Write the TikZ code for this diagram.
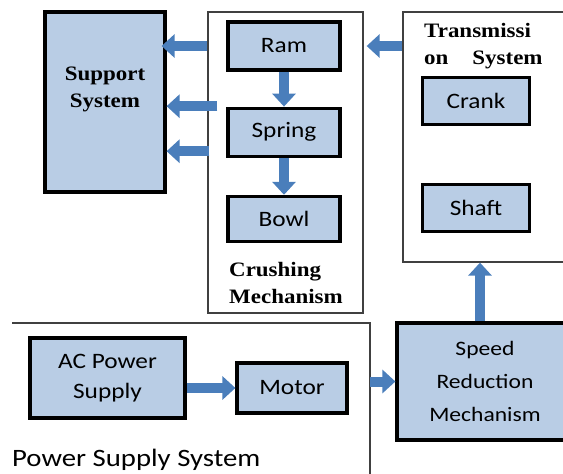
\documentclass[tikz,border=0pt]{standalone}
\usepackage{fontspec}
\setmainfont{Carlito}[FakeStretch=1.15]
\newfontfamily\headfont{Liberation Serif}[FakeStretch=1.12]
\usetikzlibrary{positioning, arrows.meta}
\definecolor{boxblue}{HTML}{B9CDE5}
\definecolor{arrowblue}{HTML}{4A7EBB}

\begin{document}
\begin{tikzpicture}[
  x=1pt, y=-1pt,
  font=\fontsize{22}{30}\selectfont,
  node distance=35pt,
  part/.style={draw=black, line width=3.2pt, fill=boxblue, align=center, inner sep=0pt},
  frame/.style={draw=black!75, line width=1.3pt, inner sep=0pt},
  head/.style={font=\fontsize{20.5}{27}\selectfont\headfont\bfseries, align=left, inner sep=0pt},
  flow/.style={-{Triangle[length=13pt, width=23pt]}, line width=10pt, arrowblue},
]
  \useasboundingbox (0,0) rectangle (563,474);
  \clip (0,0) rectangle (563,474);

  % --- support system ---
  \node[part, minimum width=120pt, minimum height=180pt] (support) at (105,102) {};
  \node[head, align=center, below=56pt of support.north] (supportlbl) {Support\\System};

  % --- crushing mechanism ---
  \node[frame, minimum width=155pt, minimum height=301pt] (crushing) at (285.5,162.5) {};
  \node[part, minimum width=112pt, minimum height=48pt] (ram) at (284,46) {Ram};
  \node[part, minimum width=112pt, minimum height=48pt, below=35pt of ram] (spring) {Spring};
  \node[part, minimum width=112pt, minimum height=45pt, below=37pt of spring] (bowl) {Bowl};
  \node[head, anchor=north west] (crushlbl) at (229,262) {Crushing\\Mechanism};
  \draw[flow] (ram) -- (spring);
  \draw[flow] (spring) -- (bowl);

  % --- transmission system ---
  \node[frame, minimum width=172pt, minimum height=250pt] (trans) at (489,137) {};
  \node[head, anchor=north west] (translbl) at (424,23) {Transmissi\\on\hspace{24pt}System};
  \node[part, minimum width=107pt, minimum height=47pt] (crank) at (476,101) {Crank};
  \node[part, minimum width=107pt, minimum height=47pt] (shaft) at (476,208) {Shaft};

  % --- speed reduction ---
  \node[part, minimum width=176pt, minimum height=117pt, font=\fontsize{20.5}{33}\selectfont]
    (speed) at (485,381.5) {Speed\\Reduction\\Mechanism};

  % --- power supply system ---
  \coordinate (pwrtl) at (12,323);
  \coordinate (pwrtr) at (370,323);
  \coordinate (pwrbr) at (370,480);
  \draw[frame] (pwrtl) -- (pwrtr) -- (pwrbr);
  \node[part, minimum width=155pt, minimum height=80pt] (ac) at (107.5,378) {AC Power\\Supply};
  \node[part, minimum width=110pt, minimum height=50pt] (motor) at (292,388) {Motor};
  \node[anchor=west, inner sep=0pt, font=\fontsize{25}{30}\selectfont] (pwrlbl) at (12,460) {Power Supply System};

  % --- power flow ---
  \draw[flow] (ac.east |- motor) -- (motor.west);
  \draw[flow] (pwrtr |- speed) -- (speed.west);
  \draw[flow] ([xshift=-5pt]speed.north) -- ([xshift=-5pt]speed.north |- trans.south);
  \draw[flow] (trans.west |- ram) -- ([xshift=3pt]crushing.east |- ram);

  % --- crushing to support ---
  \draw[flow] (crushing.west |- ram) -- ([xshift=-5pt]support.east |- ram);
  \draw[flow] ([xshift=10pt,yshift=26pt]crushing.west |- spring) -- ([yshift=26pt]support.east |- spring);
  \draw[flow] ([xshift=2pt,yshift=-19pt]crushing.west |- spring) -- ([yshift=-19pt]support.east |- spring);
\end{tikzpicture}
\end{document}
